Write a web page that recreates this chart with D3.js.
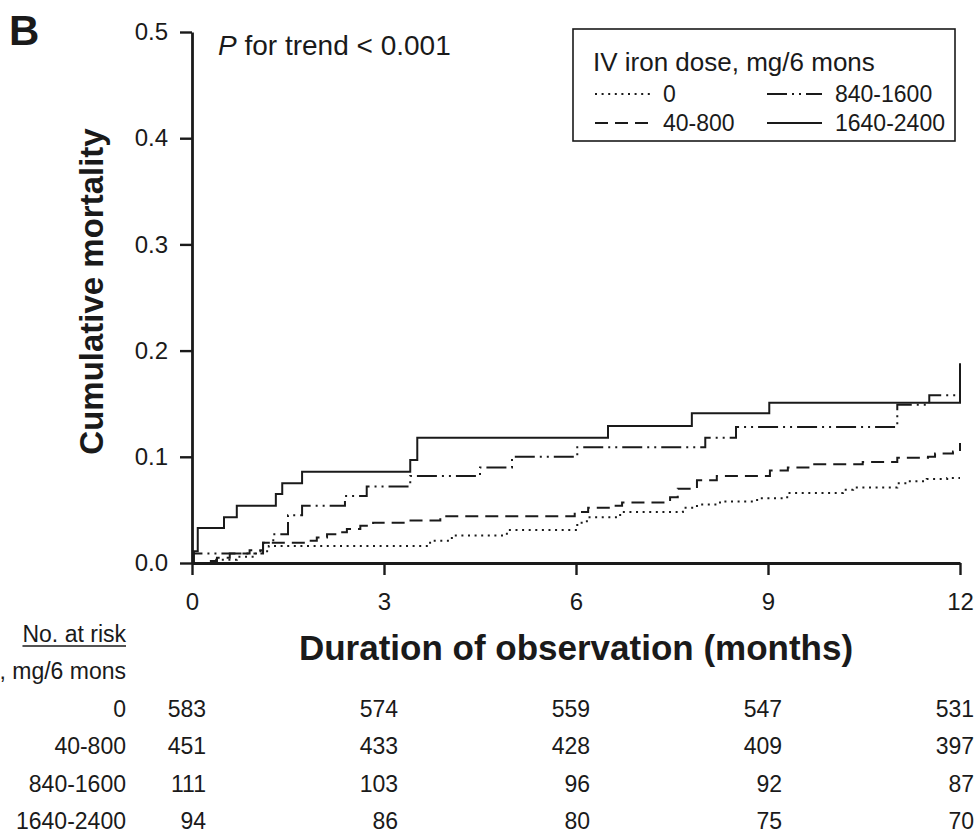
<!DOCTYPE html>
<html>
<head>
<meta charset="utf-8">
<script src="https://cdn.jsdelivr.net/npm/d3@7"></script>
<style>
  body { margin: 0; background: #fff; }
  svg { display: block; font-family: "Liberation Sans", Arial, sans-serif; }
  text { fill: #1a1a1a; }
</style>
</head>
<body>
<script>
// cumulative mortality, KM steps: [months, value]
const cumDose0 = [[0, 0], [0.3, 0.003], [0.7, 0.006], [1.0, 0.011], [1.2, 0.016], [3.72, 0.021], [4.06, 0.026],
  [4.92, 0.031], [6.02, 0.038], [6.17, 0.043], [6.69, 0.048], [7.67, 0.052], [7.89, 0.055], [8.25, 0.058],
  [8.83, 0.061], [9.3, 0.066], [10.17, 0.069], [10.33, 0.071], [11.02, 0.075], [11.17, 0.077], [11.48, 0.079],
  [11.8, 0.080], [12, 0.080]];
const cumDose40 = [[0, 0], [0.2, 0.002], [0.39, 0.005], [0.59, 0.009], [0.9, 0.012], [1.11, 0.019], [1.77, 0.021],
  [1.95, 0.024], [2.11, 0.027], [2.27, 0.029], [2.42, 0.032], [2.63, 0.035], [2.83, 0.038], [3.36, 0.040],
  [3.88, 0.044], [5.98, 0.048], [6.19, 0.052], [6.53, 0.054], [6.72, 0.057], [7.47, 0.062], [7.59, 0.070],
  [7.89, 0.078], [8.2, 0.082], [9.03, 0.087], [9.31, 0.090], [9.66, 0.093], [10.48, 0.095], [11.02, 0.099],
  [11.5, 0.100], [11.61, 0.103], [11.89, 0.105], [12, 0.113]];
const cumDose840 = [[0, 0], [0.02, 0.009], [1.11, 0.019], [1.27, 0.027], [1.5, 0.045], [1.72, 0.054], [2.39, 0.063],
  [2.73, 0.072], [3.41, 0.082], [4.5, 0.090], [5.0, 0.100], [6.02, 0.109], [8.02, 0.118], [8.5, 0.128],
  [11.02, 0.149], [11.52, 0.158], [12, 0.158]];
const cumDose1640 = [[0, 0], [0.03, 0.011], [0.09, 0.033], [0.5, 0.043], [0.7, 0.054], [1.31, 0.065], [1.41, 0.075],
  [1.72, 0.086], [3.41, 0.097], [3.52, 0.118], [6.5, 0.129], [7.81, 0.141], [9.02, 0.151], [12, 0.188]];

const groups = ['0', '40-800', '840-1600', '1640-2400'];
const riskTimes = [0, 3, 6, 9, 12];
const atRisk0 = [583, 574, 559, 547, 531];
const atRisk40 = [451, 433, 428, 409, 397];
const atRisk840 = [111, 103, 96, 92, 87];
const atRisk1640 = [94, 86, 80, 75, 70];
const yTicks = [0, 0.1, 0.2, 0.3, 0.4, 0.5];
const xTicks = [0, 3, 6, 9, 12];

const series = [
  {name: groups[0], values: cumDose0, dash: '2,4.6', risk: atRisk0},
  {name: groups[1], values: cumDose40, dash: '13,7', risk: atRisk40},
  {name: groups[2], values: cumDose840, dash: '20,5,2,5,2,5', risk: atRisk840},
  {name: groups[3], values: cumDose1640, dash: null, risk: atRisk1640}
];

const width = 977, height = 834;
const svg = d3.select(document.body).append('svg')
  .attr('width', width)
  .attr('height', height);

const x = d3.scaleLinear().domain([0, 12]).range([192, 960]);
const y = d3.scaleLinear().domain([0, 0.5]).range([563, 32]);

// axes
const yAxis = svg.append('g')
  .attr('transform', `translate(${x(0)},0)`)
  .call(d3.axisLeft(y).tickValues(yTicks).tickFormat(d3.format('.1f'))
    .tickSize(12).tickSizeOuter(0).tickPadding(12));
const xAxis = svg.append('g')
  .attr('transform', `translate(0,${y(0)})`)
  .call(d3.axisBottom(x).tickValues(xTicks).tickSize(12).tickSizeOuter(0).tickPadding(18));

[yAxis, xAxis].forEach(g => {
  g.select('.domain').attr('stroke', '#1a1a1a').attr('stroke-width', 2.8);
  g.selectAll('.tick line').attr('stroke', '#1a1a1a').attr('stroke-width', 2.4);
  g.selectAll('.tick text').attr('font-size', 24).attr('font-family', null).style('fill', '#1a1a1a');
});

// curves
const line = d3.line()
  .x(d => x(d[0]))
  .y(d => y(d[1]))
  .curve(d3.curveStepAfter);

svg.append('g').selectAll('path')
  .data(series)
  .enter().append('path')
  .attr('d', d => line(d.values))
  .attr('fill', 'none')
  .attr('stroke', '#1a1a1a')
  .attr('stroke-width', 2)
  .attr('stroke-dasharray', d => d.dash);

// labels
svg.append('text')
  .attr('x', 9).attr('y', 45)
  .attr('font-size', 42).attr('font-weight', 'bold')
  .text('B');

const pText = svg.append('text')
  .attr('x', 218).attr('y', 55)
  .attr('font-size', 28);
pText.append('tspan').attr('font-style', 'italic').text('P');
pText.append('tspan').text(' for trend < 0.001');

svg.append('text')
  .attr('transform', `translate(103,${(125 + 458) / 2}) rotate(-90)`)
  .attr('text-anchor', 'middle')
  .attr('font-size', 33).attr('font-weight', 'bold')
  .text('Cumulative mortality');

svg.append('text')
  .attr('x', 576).attr('y', 660)
  .attr('text-anchor', 'middle')
  .attr('font-size', 35).attr('font-weight', 'bold')
  .text('Duration of observation (months)');

// legend
const legend = svg.append('g');
legend.append('rect')
  .attr('x', 573).attr('y', 29)
  .attr('width', 382).attr('height', 112)
  .attr('fill', 'none').attr('stroke', '#1a1a1a').attr('stroke-width', 1.6);
legend.append('text')
  .attr('x', 593).attr('y', 71)
  .attr('font-size', 26)
  .text('IV iron dose, mg/6 mons');

const legendPos = [[595, 102], [595, 131], [767, 102], [767, 131]];
series.forEach((s, i) => {
  const [lx, ly] = legendPos[i];
  legend.append('line')
    .attr('x1', lx).attr('x2', lx + 55)
    .attr('y1', ly - 8).attr('y2', ly - 8)
    .attr('stroke', '#1a1a1a').attr('stroke-width', 2)
    .attr('stroke-dasharray', s.dash);
  legend.append('text')
    .attr('x', lx + 68).attr('y', ly)
    .attr('font-size', 23)
    .text(s.name);
});

// number at risk table
const riskHead = svg.append('text')
  .attr('x', 126).attr('y', 642)
  .attr('text-anchor', 'end')
  .attr('font-size', 23)
  .text('No. at risk');
const headLen = riskHead.node().getComputedTextLength();
svg.append('line')
  .attr('x1', 126 - headLen).attr('x2', 126)
  .attr('y1', 646).attr('y2', 646)
  .attr('stroke', '#1a1a1a').attr('stroke-width', 1.5);

// the reference crops this label at the left edge
svg.append('text')
  .attr('x', 126).attr('y', 679)
  .attr('text-anchor', 'end')
  .attr('font-size', 23)
  .text('IV iron dose, mg/6 mons');

const rowY = d3.scalePoint().domain(groups).range([717, 829]);

series.forEach(s => {
  svg.append('text')
    .attr('x', 126).attr('y', rowY(s.name))
    .attr('text-anchor', 'end')
    .attr('font-size', 23)
    .text(s.name);
  svg.append('g').selectAll('text')
    .data(s.risk)
    .enter().append('text')
    .attr('x', (d, i) => x(riskTimes[i]) + 14)
    .attr('y', rowY(s.name))
    .attr('text-anchor', 'end')
    .attr('font-size', 23)
    .text(d => d);
});
</script>
</body>
</html>
